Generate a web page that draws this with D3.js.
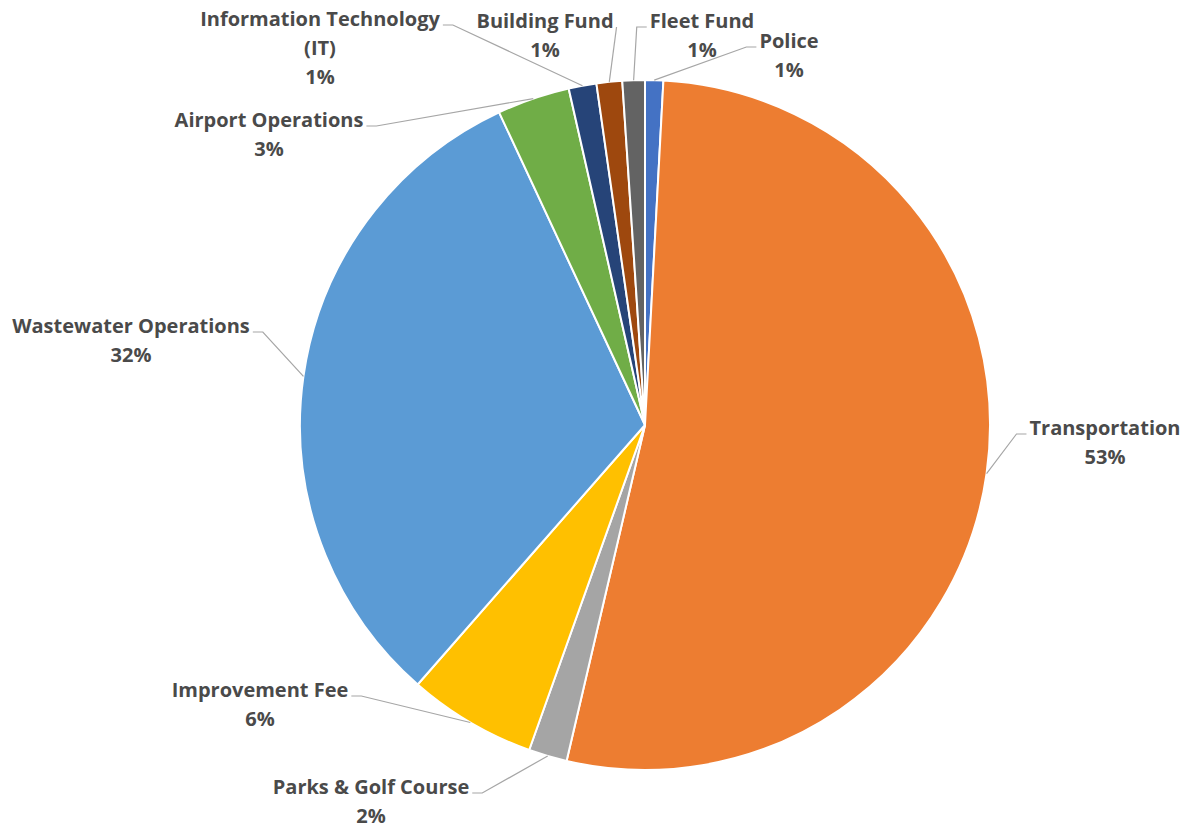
<!DOCTYPE html>
<html>
<head>
<meta charset="utf-8">
<script src="https://cdn.jsdelivr.net/npm/d3@7"></script>
<style>
  html, body { margin: 0; padding: 0; background: #fff; }
  svg { display: block; }
</style>
</head>
<body>
<svg id="chart" width="1185" height="829"></svg>
<script>
// Fund names, drawn clockwise from 12 o'clock
const categories = [
  "Police",
  "Transportation",
  "Parks & Golf Course",
  "Improvement Fee",
  "Wastewater Operations",
  "Airport Operations",
  "Information Technology (IT)",
  "Building Fund",
  "Fleet Fund"
];
// Share of the total, in percent
const values = [0.85, 52.8, 1.8, 6.0, 31.6, 3.4, 1.3, 1.2, 1.05];
const colors = ["#4472C4", "#ED7D31", "#A5A5A5", "#FFC000", "#5B9BD5", "#70AD47", "#264478", "#9E480E", "#636363"];

// Label text lines (the category name wrapped as it is printed)
const labelLines = [
  ["Police"],
  ["Transportation"],
  ["Parks & Golf Course"],
  ["Improvement Fee"],
  ["Wastewater Operations"],
  ["Airport Operations"],
  ["Information Technology", "(IT)"],
  ["Building Fund"],
  ["Fleet Fund"]
];

// Label placement: centre x, first baseline y, which end the leader leaves from, elbow or not
const labelLayout = [
  { x: 789, y: 48, side: "left", elbow: true },
  { x: 1105, y: 435, side: "left", elbow: true },
  { x: 371, y: 794, side: "right", elbow: true },
  { x: 260, y: 697, side: "right", elbow: true },
  { x: 131, y: 333, side: "right", elbow: true },
  { x: 269, y: 127, side: "right", elbow: true },
  { x: 320, y: 26, side: "right", elbow: true },
  { x: 545, y: 28, side: "right", elbow: false },
  { x: 702, y: 28, side: "left", elbow: true }
];

const cx = 645, cy = 425, radius = 345;
const lineHeight = 29;

const svg = d3.select("#chart");
const g = svg.append("g").attr("transform", `translate(${cx},${cy})`);

const data = categories.map((c, i) => ({ name: c, value: values[i], color: colors[i], lines: labelLines[i], layout: labelLayout[i] }));
const total = d3.sum(values);
const pct = d3.format(".0%");

const pie = d3.pie().value(d => d.value).sort(null).startAngle(0).endAngle(2 * Math.PI);
const arcs = pie(data);
const arc = d3.arc().innerRadius(0).outerRadius(radius);

g.selectAll("path.slice")
  .data(arcs)
  .enter().append("path")
  .attr("class", "slice")
  .attr("d", arc)
  .attr("fill", d => d.data.color)
  .attr("stroke", "#fff")
  .attr("stroke-width", 2)
  .attr("stroke-linejoin", "round");

// Labels and leader lines (page coordinates)
const labels = svg.append("g");
const leaders = svg.append("g");

arcs.forEach(a => {
  const d = a.data, L = d.layout;
  const t = labels.append("text")
    .attr("text-anchor", "middle")
    .attr("font-family", "'Open Sans', Lato, sans-serif")
    .attr("font-weight", "bold")
    .attr("font-size", 20)
    .attr("fill", "#4a4a4a");
  const lines = d.lines.concat([pct(d.value / total)]);
  lines.forEach((s, k) => {
    t.append("tspan").attr("x", L.x).attr("y", L.y + k * lineHeight).text(s);
  });

  // width of the first line decides where the leader starts
  const first = t.select("tspan").node();
  const w = first.getComputedTextLength();
  const sx = L.side === "right" ? L.x + w / 2 + 3 : L.x - w / 2 - 3;
  const sy = L.y - 1;

  const mid = (a.startAngle + a.endAngle) / 2;
  const ex = cx + radius * Math.sin(mid);
  const ey = cy - radius * Math.cos(mid);

  const pts = [[sx, sy]];
  if (L.elbow) pts.push([sx + (L.side === "right" ? 10 : -10), sy]);
  pts.push([ex, ey]);

  leaders.append("path")
    .attr("d", d3.line()(pts))
    .attr("fill", "none")
    .attr("stroke", "#A6A6A6")
    .attr("stroke-width", 1.2);
});
</script>
</body>
</html>
